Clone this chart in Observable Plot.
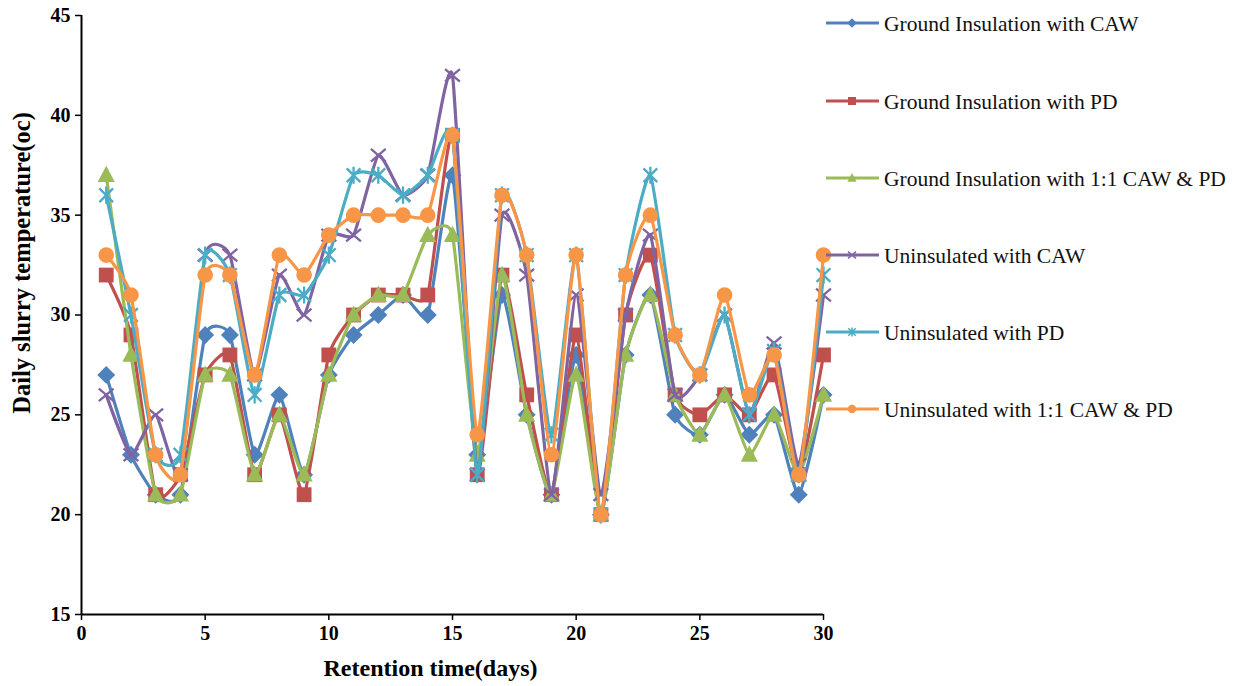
<!DOCTYPE html>
<html>
<head>
<meta charset="utf-8">
<script src="https://cdn.jsdelivr.net/npm/d3@7"></script>
<script src="https://cdn.jsdelivr.net/npm/@observablehq/plot@0.6"></script>
<style>
  html, body { margin: 0; padding: 0; background: #fff; }
  #chart { width: 1233px; height: 686px; }
</style>
</head>
<body>
<div id="chart"></div>
<script>
// Daily slurry temperature over a 30-day retention period
const days = d3.range(1, 31);

const seriesNames = [
  "Ground Insulation with CAW",
  "Ground Insulation with PD",
  "Ground Insulation with 1:1 CAW & PD",
  "Uninsulated with CAW",
  "Uninsulated with PD",
  "Uninsulated with 1:1 CAW & PD"
];

const groundCAW = [27,23,21,21,29,29,23,26,22,27,29,30,31,30,37,23,31,25,21,28,20,28,31,25,24,26,24,25,21,26];
const groundPD  = [32,29,21,22,27,28,22,25,21,28,30,31,31,31,39,22,32,26,21,29,20,30,33,26,25,26,25,27,22,28];
const groundMix = [37,28,21,21,27,27,22,25,22,27,30,31,31,34,34,23,32,25,21,27,20,28,31,26,24,26,23,25,22,26];
const unCAW     = [26,23,25,22,33,33,27,32,30,34,34,38,36,37,42,22,35,32,21,31,21,30,34,26,27,30,25,28.6,22.5,31];
const unPD      = [36,30,23,23,33,32,26,31,31,33,37,37,36,37,39,22,36,33,24,33,20,32,37,29,27,30,25,28.2,22,32];
const unMix     = [33,31,23,22,32,32,27,33,32,34,35,35,35,35,39,24,36,33,23,33,20,32,35,29,27,31,26,28,22,33];

const xTicks = [0, 5, 10, 15, 20, 25, 30];
const yTicks = [15, 20, 25, 30, 35, 40, 45];

const colors = ["#4F81BD", "#C0504D", "#9BBB59", "#8064A2", "#4BACC6", "#F79646"];

// Marker shapes (radius derived from the size Plot passes: size = r² π)
const rad = size => Math.sqrt(size / Math.PI);
const symDiamond = { draw(c, size) { const r = rad(size) * 1.15; c.moveTo(0, -r); c.lineTo(r, 0); c.lineTo(0, r); c.lineTo(-r, 0); c.closePath(); } };
const symSquare  = { draw(c, size) { const r = rad(size) * 0.95; c.moveTo(-r, -r); c.lineTo(r, -r); c.lineTo(r, r); c.lineTo(-r, r); c.closePath(); } };
const symTri     = { draw(c, size) { const r = rad(size) * 1.1; c.moveTo(0, -r * 1.1); c.lineTo(r, r * 0.8); c.lineTo(-r, r * 0.8); c.closePath(); } };
const symTimes   = { draw(c, size) { const r = rad(size) * 0.95; c.moveTo(-r, -r * 0.85); c.lineTo(r, r * 0.85); c.moveTo(-r, r * 0.85); c.lineTo(r, -r * 0.85); } };
const symStar    = { draw(c, size) { const r = rad(size) * 1.1; const a = r * 0.8; c.moveTo(-a, -a); c.lineTo(a, a); c.moveTo(-a, a); c.lineTo(a, -a); c.moveTo(0, -r); c.lineTo(0, r); } };
const symCircle  = { draw(c, size) { const r = rad(size); c.moveTo(r, 0); c.arc(0, 0, r, 0, 2 * Math.PI); } };

const values = [groundCAW, groundPD, groundMix, unCAW, unPD, unMix];
const symbols = [symDiamond, symSquare, symTri, symTimes, symStar, symCircle];
const filled = [true, true, true, false, false, true];

const rows = values.map(vals => days.map((d, i) => ({ day: d, temp: vals[i] })));

const marks = [];
rows.forEach((data, k) => {
  marks.push(Plot.line(data, {
    x: "day", y: "temp", curve: "cardinal", tension: 0.5,
    stroke: colors[k], strokeWidth: 3.2
  }));
  marks.push(Plot.dot(data, {
    x: "day", y: "temp", symbol: symbols[k], r: 7.8,
    fill: filled[k] ? colors[k] : "none",
    stroke: colors[k], strokeWidth: filled[k] ? 0 : 2.3
  }));
});

const font = "'Liberation Serif', 'Times New Roman', serif";

const chart = Plot.plot({
  width: 1233,
  height: 686,
  marginLeft: 81,
  marginRight: 410,
  marginTop: 15,
  marginBottom: 72,
  style: { fontFamily: font, background: "#fff", overflow: "visible" },
  x: { domain: [0, 30] },
  y: { domain: [15, 45] },
  marks: [
    Plot.axisX(xTicks, { tickSize: 6, tickPadding: 5, fontSize: 20, fontWeight: "bold", stroke: "#000", strokeWidth: 1.5, color: "#000", label: null }),
    Plot.axisY(yTicks, { tickSize: 6, tickPadding: 5, fontSize: 20, fontWeight: "bold", stroke: "#000", strokeWidth: 1.5, color: "#000", label: null }),
    ...marks,
    Plot.ruleX([0], { stroke: "#000", strokeWidth: 2 }),
    Plot.ruleY([15], { stroke: "#000", strokeWidth: 2 }),
    Plot.text(["Retention time(days)"], {
      frameAnchor: "bottom", dx: -22, dy: 61, fontSize: 24, fontWeight: "bold", fill: "#000", textAnchor: "middle"
    }),
    Plot.text(["Daily slurry temperature(oc)"], {
      frameAnchor: "left", dx: -59, dy: -52, rotate: -90, fontSize: 24.5, fontWeight: "bold", fill: "#000", textAnchor: "middle"
    })
  ]
});

document.getElementById("chart").appendChild(chart);

// Legend to the right of the plot area
const svg = d3.select(chart);
const legendY = [23, 101, 178, 255, 332, 409];
const lg = svg.append("g").attr("font-family", font).attr("text-anchor", "start");
seriesNames.forEach((name, k) => {
  const g = lg.append("g").attr("transform", `translate(0,${legendY[k]})`);
  g.append("line").attr("x1", 826).attr("x2", 879).attr("y1", 0).attr("y2", 0)
    .attr("stroke", colors[k]).attr("stroke-width", 3.2);
  const p = d3.path();
  symbols[k].draw(p, Math.PI * 4.2 * 4.2);
  g.append("path").attr("d", p.toString()).attr("transform", "translate(852,0)")
    .attr("fill", filled[k] ? colors[k] : "none")
    .attr("stroke", colors[k]).attr("stroke-width", filled[k] ? 0 : 1.6);
  g.append("text").attr("x", 884).attr("y", 0).attr("dy", "0.35em")
    .attr("text-anchor", "start")
    .attr("font-size", 21.5).attr("fill", "#111").text(name);
});
</script>
</body>
</html>
